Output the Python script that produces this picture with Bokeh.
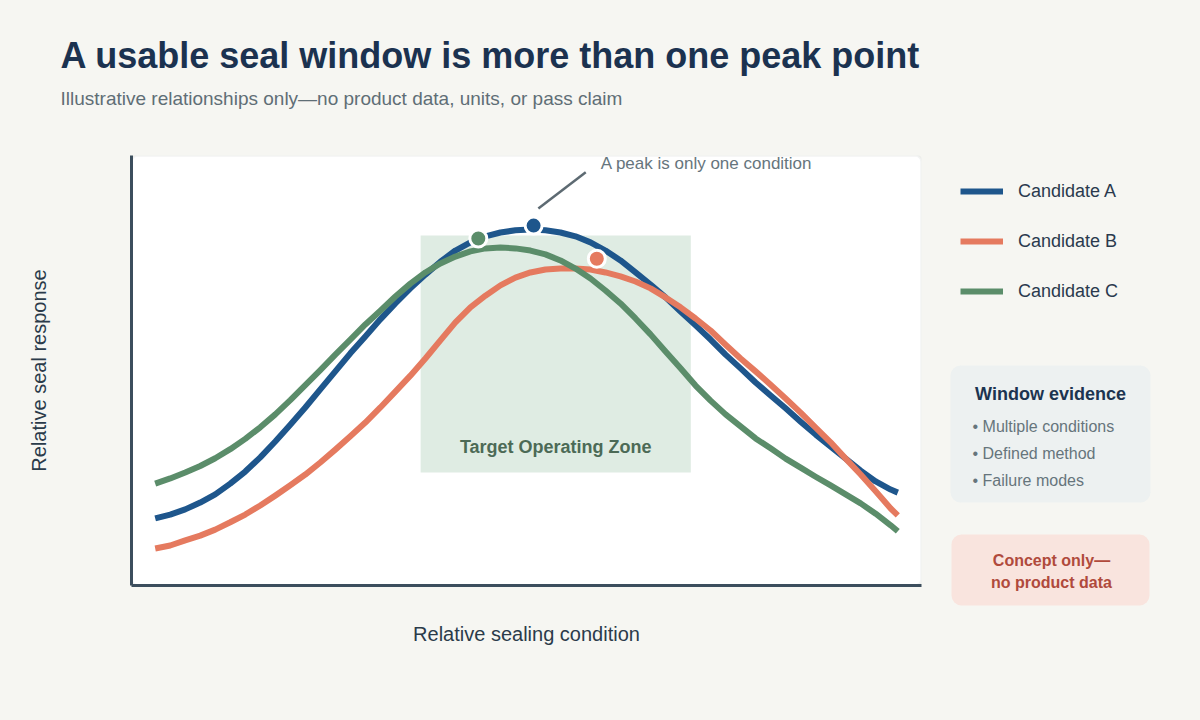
from bokeh.plotting import figure
from bokeh.layouts import column, row
from bokeh.models import Range1d, Label, BoxAnnotation, Legend, LegendItem, FixedTicker
from bokeh.embed import file_html
from bokeh.resources import INLINE

# ---------------- data ----------------
condition = [3.0, 4.9, 6.8, 8.7, 10.6, 12.5, 14.4, 16.3, 18.2, 20.1,
             22.0, 23.9, 25.8, 27.7, 29.6, 31.5, 33.4, 35.3, 37.2, 39.1,
             41.0, 42.9, 44.8, 46.7, 48.6, 50.5, 52.4, 54.3, 56.2, 58.1,
             60.0, 61.9, 63.8, 65.7, 67.6, 69.5, 71.4, 73.3, 75.2, 77.1,
             79.0, 80.9, 82.8, 84.7, 86.6, 88.5, 90.4, 92.3, 94.2, 96.1, 97.0]
cand_a = [15.6, 16.5, 17.7, 19.3, 21.2, 23.7, 26.5, 29.8, 33.5, 37.4,
          41.4, 45.6, 49.8, 54.0, 57.9, 61.9, 65.6, 69.1, 72.3, 75.3,
          77.9, 79.8, 81.2, 82.1, 82.6, 82.8, 82.6, 82.1, 81.2, 79.8,
          77.9, 75.6, 72.8, 70.0, 67.0, 63.7, 60.5, 57.2, 53.7, 50.5,
          47.2, 44.2, 41.2, 38.1, 35.1, 32.3, 29.5, 26.7, 24.2, 22.3, 21.6]
cand_b = [8.6, 9.3, 10.5, 11.6, 13.0, 14.7, 16.5, 18.6, 20.9, 23.3,
          25.8, 28.6, 31.6, 34.7, 37.9, 41.4, 45.1, 48.8, 52.8, 57.0,
          61.2, 64.7, 67.4, 69.8, 71.6, 72.8, 73.5, 73.7, 73.7, 73.5,
          72.8, 71.9, 70.7, 69.1, 67.0, 64.7, 62.1, 59.3, 56.0, 52.8,
          49.8, 46.7, 43.5, 40.2, 36.7, 33.3, 29.5, 25.8, 21.9, 17.9, 16.3]
cand_c = [23.7, 24.9, 26.3, 27.8, 29.6, 31.7, 34.1, 36.8, 39.8, 43.1,
          46.6, 50.1, 53.7, 57.2, 60.7, 63.9, 67.2, 70.2, 72.8, 74.9,
          76.5, 77.7, 78.4, 78.6, 78.4, 77.9, 77.0, 75.6, 73.7, 71.4,
          68.6, 65.6, 62.1, 58.4, 54.4, 50.5, 46.5, 43.0, 39.8, 37.0,
          34.2, 31.9, 29.5, 27.4, 25.3, 23.3, 21.2, 19.1, 16.7, 14.0, 12.6]

series_names = ["Candidate A", "Candidate B", "Candidate C"]
series_colors = ["#1e568c", "#e57a5f", "#5b8d6a"]

# peak markers (condition, response) for A, B, C
peak_x = [50.9, 58.9, 43.9]
peak_y = [83.7, 76.0, 80.7]

# target operating zone (condition range, response range)
zone_x = [36.6, 70.8]
zone_y = [26.3, 81.4]

# callout leader (condition, response)
callout_x = [51.5, 57.5]
callout_y = [87.7, 96.1]

title_text = "A usable seal window is more than one peak point"
subtitle_text = "Illustrative relationships only\u2014no product data, units, or pass claim"
evidence_title = "Window evidence"
evidence_items = ["\u2022 Multiple conditions", "\u2022 Defined method", "\u2022 Failure modes"]
concept_lines = ["Concept only\u2014", "no product data"]

FONT = "Liberation Sans"
BG = "#f6f6f2"


def blank(width, height, x0, x1, y0, y1):
    f = figure(width=width, height=height, output_backend="svg", toolbar_location=None,
               x_range=Range1d(x0, x1), y_range=Range1d(y0, y1),
               x_axis_location=None, y_axis_location=None, min_border=0,
               frame_align=False)
    f.background_fill_color = BG
    f.border_fill_color = BG
    f.outline_line_color = None
    f.xgrid.visible = False
    f.ygrid.visible = False
    return f


# ---------------- header ----------------
header = blank(1200, 120, 0, 1200, 120, 0)
header.add_layout(Label(x=60, y=55, text=title_text, text_baseline="middle",
                        text_font=FONT, text_font_size="36px", text_font_style="bold",
                        text_color="#1b3250"))
header.add_layout(Label(x=60, y=97.5, text=subtitle_text, text_baseline="middle",
                        text_font=FONT, text_font_size="19px", text_color="#5f6e76"))

# ---------------- main plot ----------------
p = figure(width=940, height=600, output_backend="svg", toolbar_location=None,
           x_range=Range1d(0, 100), y_range=Range1d(0, 100),
           min_border_left=131, min_border_right=19, min_border_top=35,
           min_border_bottom=135, frame_align=False)
p.background_fill_color = BG
p.border_fill_color = BG
p.outline_line_color = None
p.xgrid.visible = False
p.ygrid.visible = False

for ax, label, standoff in [(p.xaxis, "Relative sealing condition", 37),
                            (p.yaxis, "Relative seal response", 82)]:
    ax.ticker = FixedTicker(ticks=[])
    ax.major_tick_out = 0
    ax.major_tick_in = 0
    ax.minor_tick_out = 0
    ax.minor_tick_in = 0
    ax.major_label_text_font_size = "0px"
    ax.major_label_standoff = 0
    ax.axis_line_width = 3
    ax.axis_line_color = "#3c4e5d"
    ax.axis_label = label
    ax.axis_label_standoff = standoff
    ax.axis_label_text_font = FONT
    ax.axis_label_text_font_size = "20px"
    ax.axis_label_text_font_style = "normal"
    ax.axis_label_text_color = "#2b3b4a"

# plot panel (white, rounded, light border)
p.add_layout(BoxAnnotation(left=0, right=100, bottom=0, top=100, fill_color="white",
                           fill_alpha=1.0, line_color="#d6d9d9", line_width=2.5,
                           border_radius=6, level="underlay"))
p.add_layout(BoxAnnotation(left=zone_x[0], right=zone_x[1], bottom=zone_y[0], top=zone_y[1],
                           fill_color="#dfece3", fill_alpha=1.0, line_color=None,
                           level="underlay"))
p.add_layout(Label(x=(zone_x[0] + zone_x[1]) / 2, y=32.3, text="Target Operating Zone",
                   text_align="center", text_baseline="middle", text_font=FONT,
                   text_font_size="18px", text_font_style="bold", text_color="#4c6a56"))

for ys, col in zip([cand_a, cand_b, cand_c], series_colors):
    p.line(condition, ys, line_width=6, line_color=col, line_join="round")

p.scatter(peak_x, peak_y, size=17, fill_color=series_colors, line_color="white",
          line_width=3)

p.line(callout_x, callout_y, line_width=2.5, line_color="#5d6a72")
p.add_layout(Label(x=59.4, y=98.1, text="A peak is only one condition",
                   text_align="left", text_baseline="middle", text_font=FONT,
                   text_font_size="17px", text_color="#66757d"))

# ---------------- side panel ----------------
side = blank(260, 600, 940, 1200, 720, 120)
# legend proxies: same series, which fall outside this panel's ranges
legend_renderers = [side.line(condition, ys, line_width=6, line_color=c)
                    for ys, c in zip([cand_a, cand_b, cand_c], series_colors)]
legend = Legend(items=[LegendItem(label=n, renderers=[r])
                       for n, r in zip(series_names, legend_renderers)],
                location=(20, 418), orientation="vertical",
                glyph_width=43, glyph_height=22, label_height=22, label_width=10,
                spacing=28, label_standoff=15, padding=0, margin=0,
                border_line_color=None, background_fill_alpha=0,
                label_text_font=FONT, label_text_font_size="18px",
                label_text_color="#2a3a4e")
side.add_layout(legend)

side.add_layout(BoxAnnotation(left=950, right=1150, top=365, bottom=502,
                              fill_color="#edf1f1", fill_alpha=1.0, line_color=None,
                              border_radius=10))
side.add_layout(Label(x=1050, y=393, text=evidence_title, text_align="center",
                      text_baseline="middle", text_font=FONT, text_font_size="18px",
                      text_font_style="bold", text_color="#1c3450"))
for i, item in enumerate(evidence_items):
    side.add_layout(Label(x=972, y=426 + 27 * i, text=item, text_align="left",
                          text_baseline="middle", text_font=FONT, text_font_size="16px",
                          text_color="#66757c"))

side.add_layout(BoxAnnotation(left=951, right=1149, top=534, bottom=605,
                              fill_color="#f9e4de", fill_alpha=1.0, line_color=None,
                              border_radius=10))
for i, t in enumerate(concept_lines):
    side.add_layout(Label(x=1051, y=560 + 22 * i, text=t, text_align="center",
                          text_baseline="middle", text_font=FONT, text_font_size="16px",
                          text_font_style="bold", text_color="#b04a3c"))

layout = column(header, row(p, side, styles={"background-color": BG}),
                styles={"background-color": BG})
open("out.html", "w").write(file_html(layout, INLINE))
